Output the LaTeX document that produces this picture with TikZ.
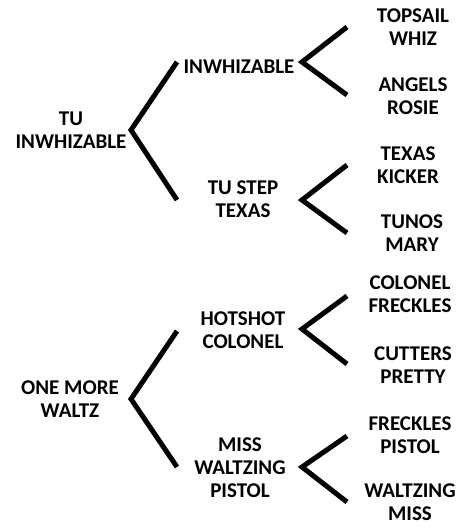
\documentclass[tikz,border=0pt]{standalone}
\usepackage{fontspec}
\setmainfont{Carlito}
\usetikzlibrary{positioning}
\tikzstyle{horse} = [font=\bfseries\fontsize{21}{23}\selectfont, align=center, inner sep=0pt]
\tikzstyle{line} = [draw, line width=5pt]

\begin{document}
\begin{tikzpicture}[x=1pt, y=-1pt]
\useasboundingbox (0,0) rectangle (462,528);

% Horses
% Tu Inwhizable
\node (tu) [horse] at (71,130) {TU\\INWHIZABLE};
\node (inw) [horse] at (239,67) {INWHIZABLE};
\node (step) [horse] at (243,199) {TU STEP\\TEXAS};
\node (topsail) [horse] at (413,27) {TOPSAIL\\WHIZ};
\node (angels) [horse] at (413,96) {ANGELS\\ROSIE};
\node (kicker) [horse] at (408,165) {TEXAS\\KICKER};
\node (tunos) [horse] at (412,233) {TUNOS\\MARY};
% One More Waltz
\node (omw) [horse] at (70,399) {ONE MORE\\WALTZ};
\node (hotshot) [horse] at (243,330) {HOTSHOT\\COLONEL};
\node (miss) [horse] at (240,468) {MISS\\WALTZING\\PISTOL};
\node (colonel) [horse] at (410,294) {COLONEL\\FRECKLES};
\node (cutters) [horse] at (413,365) {CUTTERS\\PRETTY};
\node (freckles) [horse] at (410,435) {FRECKLES\\PISTOL};
\node (waltzing) [horse] at (410,502) {WALTZING\\MISS};

% Forks
\coordinate (tufork) at (131,130);
\coordinate (tuup) at (177,62);
\coordinate (tudown) at (177,200);
\coordinate (inwfork) at (302,62);
\coordinate (inwup) at (347,27);
\coordinate (inwdown) at (347,95);
\coordinate (stepfork) at (302,200);
\coordinate (stepup) at (347,165);
\coordinate (stepdown) at (347,233);
\coordinate (omwfork) at (131,399);
\coordinate (omwup) at (177,331);
\coordinate (omwdown) at (177,467);
\coordinate (hotfork) at (302,329);
\coordinate (hotup) at (347,296);
\coordinate (hotdown) at (347,364);
\coordinate (missfork) at (302,467);
\coordinate (missup) at (347,436);
\coordinate (missdown) at (347,502);

% Connections
\draw [line] (tuup) -- (tufork) -- (tudown);
\draw [line] (inwup) -- (inwfork) -- (inwdown);
\draw [line] (stepup) -- (stepfork) -- (stepdown);
\draw [line] (omwup) -- (omwfork) -- (omwdown);
\draw [line] (hotup) -- (hotfork) -- (hotdown);
\draw [line] (missup) -- (missfork) -- (missdown);

\end{tikzpicture}
\end{document}
